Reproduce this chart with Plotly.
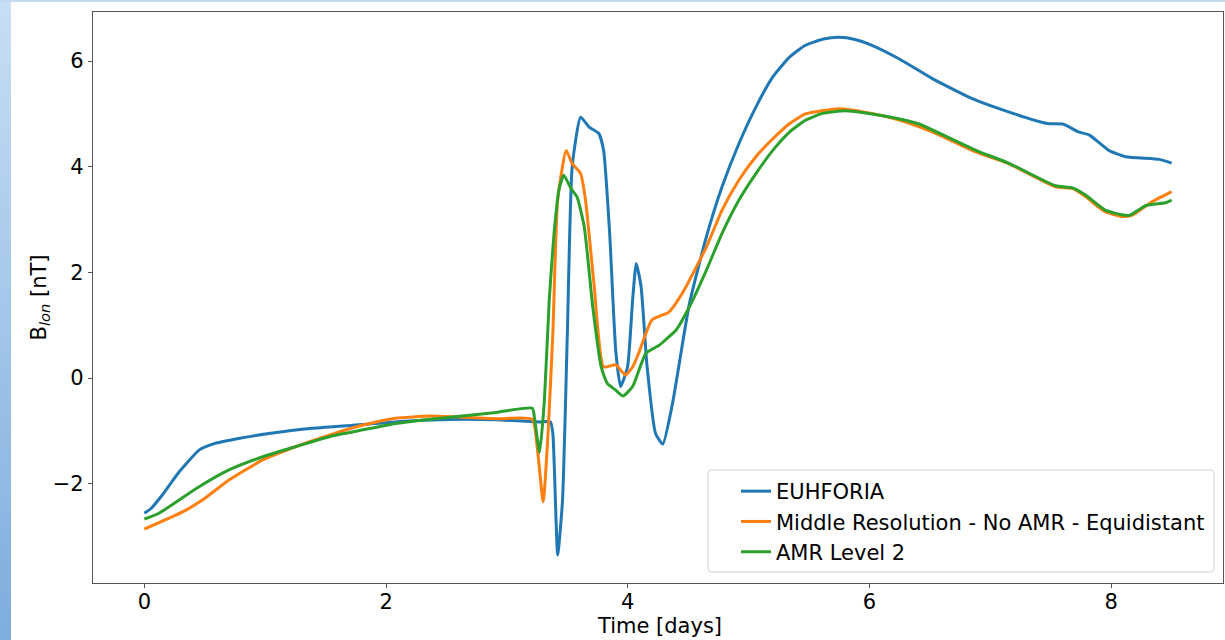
import plotly.graph_objects as go

# ---- data ----
t_euh = [0.0, 0.055, 0.15, 0.29, 0.455, 0.565, 0.79, 1.03, 1.39, 1.81, 2.22, 2.63, 2.91, 3.27, 3.36,
         3.38, 3.42, 3.46, 3.50, 3.54, 3.61, 3.68, 3.76, 3.80, 3.85, 3.90, 3.94, 3.998, 4.04, 4.07,
         4.11, 4.16, 4.23, 4.29, 4.37, 4.51, 4.65, 4.78, 4.92, 5.06, 5.20, 5.34, 5.47, 5.62, 5.75, 5.88, 6.02,
         6.24, 6.52, 6.85, 7.15, 7.47, 7.60, 7.73, 7.82, 7.98, 8.12, 8.40, 8.50]
b_euh = [-2.56, -2.47, -2.21, -1.77, -1.36, -1.25, -1.14, -1.05, -0.95, -0.88, -0.81, -0.78, -0.79, -0.83, -0.83,
         -1.05, -3.35, -2.31, 0.85, 4.00, 4.94, 4.75, 4.63, 4.31, 2.74, 0.53, -0.16, 0.21, 1.48, 2.17,
         1.73, 0.21, -1.05, -1.25, -0.48, 1.41, 2.67, 3.62, 4.44, 5.13, 5.70, 6.08, 6.30, 6.42, 6.45, 6.41, 6.30,
         6.05, 5.67, 5.29, 5.04, 4.82, 4.81, 4.66, 4.60, 4.31, 4.19, 4.14, 4.07]

t_mid = [0.0, 0.32, 0.48, 0.70, 0.98, 1.25, 1.53, 1.81, 2.08, 2.36, 2.63, 2.91, 3.21, 3.25, 3.30,
         3.34, 3.38, 3.42, 3.49, 3.54, 3.61, 3.65, 3.72, 3.80, 3.90, 3.98, 4.04, 4.09, 4.20, 4.34,
         4.45, 4.65, 4.78, 4.92, 5.06, 5.20, 5.34, 5.47, 5.75, 6.02, 6.24, 6.52, 6.88, 7.15, 7.54,
         7.68, 7.79, 7.95, 8.09, 8.17, 8.34, 8.50]
b_mid = [-2.86, -2.53, -2.31, -1.93, -1.55, -1.30, -1.08, -0.89, -0.76, -0.72, -0.74, -0.77, -0.78, -1.30, -2.34,
         -1.05, 0.85, 3.37, 4.31, 4.06, 3.87, 3.37, 1.79, 0.21, 0.25, 0.06, 0.21, 0.47, 1.10, 1.25,
         1.60, 2.48, 3.18, 3.75, 4.19, 4.53, 4.82, 5.00, 5.10, 5.01, 4.89, 4.66, 4.28, 4.06, 3.62,
         3.59, 3.43, 3.15, 3.06, 3.08, 3.34, 3.53]

t_amr = [0.0, 0.12, 0.43, 0.70, 0.98, 1.25, 1.53, 1.81, 2.08, 2.36, 2.63, 2.91, 3.21, 3.23, 3.27,
         3.31, 3.35, 3.39, 3.43, 3.47, 3.53, 3.58, 3.64, 3.71, 3.78, 3.83, 3.90, 3.96, 4.04, 4.15,
         4.26, 4.31, 4.40, 4.51, 4.65, 4.78, 4.92, 5.06, 5.20, 5.34, 5.47, 5.61, 5.80, 6.02, 6.24,
         6.41, 6.88, 7.15, 7.54, 7.68, 7.79, 7.95, 8.09, 8.15, 8.29, 8.45, 8.50]
b_amr = [-2.67, -2.56, -2.09, -1.74, -1.49, -1.30, -1.11, -0.98, -0.86, -0.78, -0.72, -0.65, -0.57, -0.79, -1.41,
         -0.42, 1.48, 2.74, 3.56, 3.84, 3.59, 3.43, 2.86, 1.35, 0.21, -0.10, -0.23, -0.34, -0.16, 0.47,
         0.62, 0.72, 0.91, 1.35, 2.04, 2.74, 3.37, 3.87, 4.31, 4.66, 4.88, 5.01, 5.06, 5.00, 4.91,
         4.81, 4.31, 4.07, 3.64, 3.60, 3.46, 3.18, 3.09, 3.08, 3.27, 3.32, 3.37]

names = ["EUHFORIA", "Middle Resolution - No AMR - Equidistant", "AMR Level 2"]
colors = ["#1f77b4", "#ff7f0e", "#2ca02c"]
x_ticks = [0, 2, 4, 6, 8]
y_ticks = [-2, 0, 2, 4, 6]
y_ticktext = ["\u22122", "0", "2", "4", "6"]
x_title = "Time [days]"
y_title = "B<sub><i>lon</i></sub> [nT]"

FONT = "DejaVu Sans"

fig = go.Figure()
for t, b, n, c in zip([t_euh, t_mid, t_amr], [b_euh, b_mid, b_amr], names, colors):
    fig.add_trace(go.Scatter(x=t, y=b, mode="lines", name=n,
                             line=dict(color=c, width=3, shape="spline", smoothing=0.5)))

W, H = 1225, 640
L, R, T, B = 93, 2, 12, 57
pw, ph = W - L - R, H - T - B


def px2paper(xp, yp):
    return (xp - L) / pw, (H - B - yp) / ph


# slide-like blue border strips (left gradient, top strip)
shapes = []
n_seg = 40
top_c = (200, 222, 244)
bot_c = (128, 174, 222)
for i in range(n_seg):
    f = i / (n_seg - 1)
    col = tuple(int(top_c[k] + (bot_c[k] - top_c[k]) * f) for k in range(3))
    y0px = H * i / n_seg
    y1px = H * (i + 1) / n_seg + 1
    shapes.append(dict(type="rect", xref="paper", yref="paper",
                       x0=(0 - L) / pw, x1=(11 - L) / pw,
                       y0=(H - B - y1px) / ph, y1=(H - B - y0px) / ph,
                       fillcolor="rgb(%d,%d,%d)" % col, line=dict(width=0), layer="below"))
shapes.append(dict(type="rect", xref="paper", yref="paper",
                   x0=(0 - L) / pw, x1=(W - L) / pw,
                   y0=(H - B - 2) / ph, y1=(H - B) / ph,
                   fillcolor="rgb(195,218,242)", line=dict(width=0), layer="below"))

# legend frame (rounded box, drawn as a shape behind the transparent legend)
bx0, bx1, by0, by1, rr = 708, 1214, 470, 572, 4
def P(x, y):
    a, b = px2paper(x, y)
    return "%.5f,%.5f" % (a, b)
path = ("M" + P(bx0 + rr, by0) + " L" + P(bx1 - rr, by0) + " Q" + P(bx1, by0) + " " + P(bx1, by0 + rr) +
        " L" + P(bx1, by1 - rr) + " Q" + P(bx1, by1) + " " + P(bx1 - rr, by1) +
        " L" + P(bx0 + rr, by1) + " Q" + P(bx0, by1) + " " + P(bx0, by1 - rr) +
        " L" + P(bx0, by0 + rr) + " Q" + P(bx0, by0) + " " + P(bx0 + rr, by0) + " Z")
shapes.append(dict(type="path", xref="paper", yref="paper", path=path,
                   fillcolor="rgba(255,255,255,0.85)", line=dict(color="#d0d0d0", width=1),
                   layer="above"))

lx, _ = px2paper(1210, 0)
_, ly = px2paper(0, 572)
tx, ty = px2paper(659, 626)

fig.update_layout(
    width=W, height=H,
    margin=dict(l=L, r=R, t=T, b=B),
    paper_bgcolor="white", plot_bgcolor="white",
    font=dict(family=FONT, size=20, color="black"),
    shapes=shapes,
    showlegend=True,
    legend=dict(x=lx, y=ly, xanchor="right", yanchor="bottom",
                bgcolor="rgba(0,0,0,0)", borderwidth=0,
                font=dict(family=FONT, size=21, color="black"),
                itemwidth=30),
    annotations=[dict(text=x_title, xref="paper", yref="paper", x=tx, y=ty,
                      xanchor="center", yanchor="middle", showarrow=False,
                      font=dict(family=FONT, size=21, color="black"))],
)
fig.update_xaxes(range=[-0.425, 8.925], tickvals=x_ticks, ticks="outside", ticklen=4,
                 tickcolor="#555", showgrid=False, zeroline=False, showline=True,
                 linecolor="#555", linewidth=1.3, mirror=True,
                 ticklabelstandoff=-4,
                 tickfont=dict(size=21))
fig.update_yaxes(range=[-3.88, 6.93], tickvals=y_ticks, ticktext=y_ticktext,
                 ticks="outside", ticklen=4, tickcolor="#555", showgrid=False, zeroline=False,
                 showline=True, linecolor="#555", linewidth=1.3, mirror=True,
                 title=dict(text=y_title, standoff=0, font=dict(size=21)),
                 tickfont=dict(size=21))

fig.write_html("out.html")
